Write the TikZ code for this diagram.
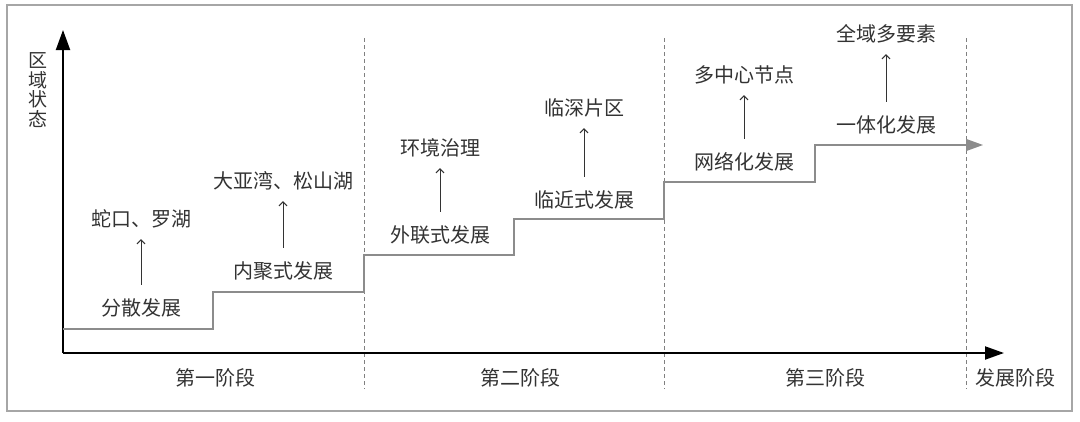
\documentclass[tikz,border=0pt]{standalone}
\usepackage{fontspec}
\setmainfont{Noto Sans CJK SC}
\usetikzlibrary{arrows.meta}

\begin{document}
\begin{tikzpicture}[x=1pt,y=-1pt,
  lbl/.style={font=\fontsize{20}{20}\selectfont,text=black!80,inner sep=0pt,text height=15.5pt,text depth=4.5pt},
  up/.style={draw=black!80,line width=1pt,-{Straight Barb[length=4pt,width=8pt]},shorten <=15pt,shorten >=8pt},
  sep/.style={draw=black!50,line width=0.8pt,dash pattern=on 4pt off 3pt}]
\useasboundingbox (0,0) rectangle (1080,421);
\draw[black!35,line width=1.2pt] (7,5) rectangle (1072,411);
% stage borders
\foreach \x in {364,664,966} \draw[sep] (\x,38) -- (\x,389);
% axes
\coordinate (o) at (63,353);
\coordinate (ytip) at (63,30);
\coordinate (xtip) at (1004,353);
\draw[line width=2pt,-{Triangle[length=20pt,width=14pt]}] (o) -- (ytip);
\draw[line width=2pt,-{Triangle[length=19pt,width=13pt]}] (o) -- (xtip);
\node[font=\fontsize{19}{19.5}\selectfont,text=black!80,inner sep=0pt,align=center] (ylab) at (38,90) {区\\域\\状\\态};
% steps
\draw[black!45,line width=1.3pt,-{Triangle[length=17pt,width=12pt]}] (63,329) -| (213,292) -| (364,255) -| (514,219) -| (664,182) -| (815,145) -- (983,145);
% stage one
\node[lbl] (fs) at (141,310) {分散发展};
\node[lbl] (sk) at (141,221) {蛇口、罗湖};
\node[lbl] (nj) at (283,273) {内聚式发展};
\node[lbl] (dy) at (283,183) {大亚湾、松山湖};
\draw[up] (fs) -- (sk);
\draw[up] (nj) -- (dy);
% stage two
\node[lbl] (wl) at (440,237) {外联式发展};
\node[lbl] (hj) at (440,150) {环境治理};
\node[lbl] (lj) at (584,202) {临近式发展};
\node[lbl] (ls) at (584,110) {临深片区};
\draw[up] (wl) -- (hj);
\draw[up] (lj) -- (ls);
% stage three
\node[lbl] (wz) at (744,164) {网络化发展};
\node[lbl] (dz) at (744,77) {多中心节点};
\node[lbl] (yt) at (886,127) {一体化发展};
\node[lbl] (qy) at (886,36) {全域多要素};
\draw[up] (wz) -- (dz);
\draw[up] (yt) -- (qy);
% x labels
\node[lbl] (s1) at (215,380) {第一阶段};
\node[lbl] (s2) at (520,380) {第二阶段};
\node[lbl] (s3) at (825,380) {第三阶段};
\node[lbl] (xlab) at (1015,380) {发展阶段};
\end{tikzpicture}
\end{document}
